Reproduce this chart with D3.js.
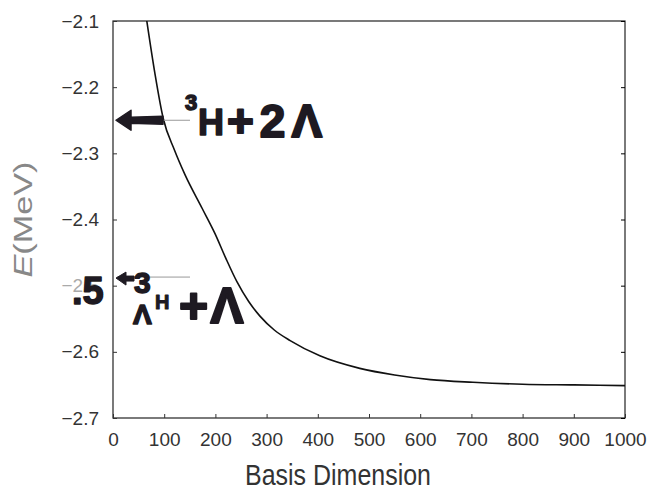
<!doctype html>
<html lang="en">
<head>
<meta charset="UTF-8">
<title>Energy vs basis dimension</title>
<style>
  body { margin: 0; background: #fff; }
  svg text { font-family: "Liberation Sans", Arial, sans-serif; }
</style>
</head>
<body>
<svg id="chart"></svg>
<script src="https://d3js.org/d3.v7.min.js"></script>
<script>
// values
const basisDim = [66, 82, 98, 120, 141, 174, 199, 220, 242, 265, 287, 315, 346, 404, 482, 550, 620, 703, 800, 900, 1000];
const energy = [-2.10, -2.18, -2.247, -2.295, -2.333, -2.383, -2.421, -2.458, -2.494, -2.524, -2.546, -2.567, -2.583, -2.606, -2.625, -2.635, -2.642, -2.646, -2.649, -2.650, -2.651];
const xTicks = [0, 100, 200, 300, 400, 500, 600, 700, 800, 900, 1000];
const yTicks = [-2.1, -2.2, -2.3, -2.4, -2.5, -2.6, -2.7];
const threshold2L = -2.25;   // 3H + 2Lambda
const threshold1L = -2.487;  // 3_Lambda H + Lambda

const width = 653, height = 499;
const m = {top: 21, right: 28, bottom: 81, left: 113};

const svg = d3.select('#chart').attr('width', width).attr('height', height);

const x = d3.scaleLinear().domain([0, 1000]).range([m.left, width - m.right]);
const y = d3.scaleLinear().domain([-2.1, -2.7]).range([m.top, height - m.bottom]);

// frame
svg.append('rect')
   .attr('x', x(0)).attr('y', y(-2.1))
   .attr('width', x(1000) - x(0)).attr('height', y(-2.7) - y(-2.1))
   .attr('fill', 'none').attr('stroke', '#222').attr('stroke-width', 1.2);

// axes with inward ticks
const xAxis = svg.append('g').attr('transform', `translate(0,${y(-2.7)})`)
   .call(d3.axisBottom(x).tickValues(xTicks).tickSize(-4).tickPadding(15).tickFormat(d3.format('d')));
const yAxis = svg.append('g').attr('transform', `translate(${x(0)},0)`)
   .call(d3.axisLeft(y).tickValues(yTicks).tickSize(-4).tickPadding(14).tickFormat(d3.format('.1f')));
svg.append('g').attr('transform', `translate(${x(1000)},0)`)
   .call(d3.axisRight(y).tickValues(yTicks).tickSize(-4).tickFormat(''));

[xAxis, yAxis].forEach(g => {
  g.selectAll('line').attr('stroke', '#333');
  g.selectAll('text').attr('font-size', 19).attr('fill', '#333');
});
// the -2.5 label is mostly hidden under the handwritten ".5" in the scan
yAxis.selectAll('.tick').filter(d => d === -2.5).select('text').attr('fill', '#aaa');
svg.selectAll('.domain').remove();

// axis titles
svg.append('text')
   .attr('x', (x(0) + x(1000)) / 2 - 31).attr('y', 485)
   .attr('text-anchor', 'middle').attr('font-size', 30).attr('fill', '#333')
   .attr('textLength', 186).attr('lengthAdjust', 'spacingAndGlyphs')
   .text('Basis Dimension');

const yl = svg.append('text')
   .attr('transform', `translate(32,${(y(-2.1) + y(-2.7)) / 2}) rotate(-90)`)
   .attr('text-anchor', 'middle').attr('font-size', 26).attr('fill', '#888')
   .attr('textLength', 116).attr('lengthAdjust', 'spacingAndGlyphs');
yl.append('tspan').attr('font-style', 'italic').text('E');
yl.append('tspan').text('(MeV)');

// curve
const line = d3.line().x((d, i) => x(basisDim[i])).y(d => y(d)).curve(d3.curveMonotoneX);
svg.append('path').datum(energy)
   .attr('d', line).attr('fill', 'none').attr('stroke', '#111').attr('stroke-width', 1.6);

// hand-drawn threshold marks
const ink = '#1e1a22';
const hand = '"DejaVu Sans", sans-serif';
function mark(px, py, size, txt, sw) {
  return svg.append('text').attr('x', px).attr('y', py)
    .attr('font-family', hand).attr('font-weight', 'bold').attr('font-size', size)
    .attr('fill', ink).attr('stroke', ink).attr('stroke-width', sw).attr('stroke-linejoin', 'round')
    .text(txt);
}

// 3H + 2Lambda
const y2 = y(threshold2L), x0 = x(0);
svg.append('line')
   .attr('x1', x0 + 4).attr('x2', x0 + 77).attr('y1', y2).attr('y2', y2)
   .attr('stroke', '#999').attr('stroke-width', 1);
svg.append('path')
   .attr('d', `M${x0 + 3},${y2} l15,-10 l0,7 l32,-1 l0,8 l-32,-1 l0,7 z`)
   .attr('fill', ink).attr('stroke', ink).attr('stroke-width', 1.5).attr('stroke-linejoin', 'round');
mark(x0 + 72, y2 - 10, 22, '3', 1.5);
mark(x0 + 85, y2 + 15, 36, 'H', 1.5);
mark(x0 + 114, y2 + 17, 46, '+2Λ', 2).attr('letter-spacing', 6);

// 3_Lambda H + Lambda
const y1 = y(threshold1L);
svg.append('line')
   .attr('x1', x0 + 4).attr('x2', x0 + 77).attr('y1', y1).attr('y2', y1)
   .attr('stroke', '#999').attr('stroke-width', 1);
mark(72, y(-2.5) + 18, 38, '.5', 1.5);
svg.append('path')
   .attr('d', `M${x0 + 3},${y1 + 1} l10,-6 l0,4 l8,0 l0,5 l-8,0 l0,4 z`)
   .attr('fill', ink).attr('stroke', ink).attr('stroke-width', 1);
mark(x0 + 21, y1 + 16, 30, '3', 1.5);
mark(x0 + 20, y1 + 47, 28, 'Λ', 1.5);
mark(x0 + 42, y1 + 32, 20, 'H', 1);
mark(x0 + 66, y1 + 46, 50, '+Λ', 2).attr('letter-spacing', 2);
</script>
</body>
</html>
